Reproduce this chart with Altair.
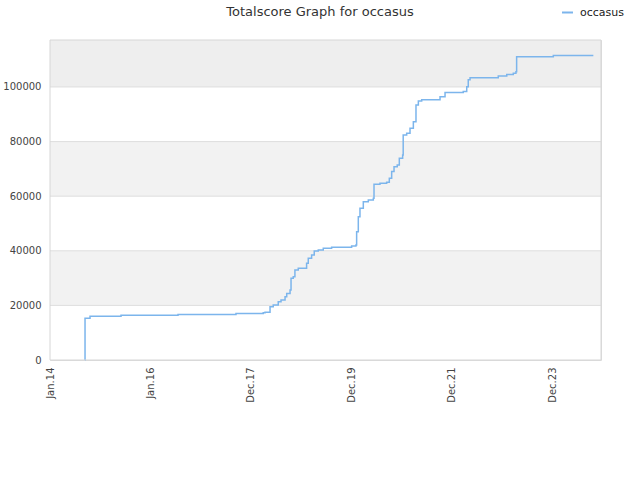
import altair as alt
import pandas as pd

# ---- data ----
dates = [
    "2014-09-19", "2014-09-20", "2014-10-26", "2015-06-06", "2016-07-20", "2017-09-10",
    "2018-03-25", "2018-04-07", "2018-05-13", "2018-06-05", "2018-07-11", "2018-07-31",
    "2018-08-29", "2018-09-10", "2018-10-04", "2018-10-11", "2018-10-27", "2018-11-08",
    "2018-12-02", "2019-01-31", "2019-02-12", "2019-03-08", "2019-03-27", "2019-04-25",
    "2019-05-31", "2019-07-30", "2019-12-21", "2020-01-21", "2020-01-26", "2020-02-07",
    "2020-02-19", "2020-03-14", "2020-04-19", "2020-05-25", "2020-05-30", "2020-07-12",
    "2020-08-29", "2020-09-17", "2020-10-04", "2020-10-21", "2020-11-13", "2020-11-28",
    "2020-12-22", "2020-12-26", "2021-01-20", "2021-02-13", "2021-03-09", "2021-03-28",
    "2021-04-14", "2021-05-08", "2021-09-17", "2021-10-23", "2022-03-03", "2022-03-28",
    "2022-04-08", "2022-04-21", "2022-10-30", "2022-11-10", "2023-01-10", "2023-02-26",
    "2023-03-17", "2023-03-22", "2023-12-11", "2024-09-24",
]
scores = [
    0, 15300, 16000, 16400, 16700, 17000,
    17300, 17500, 19500, 20150, 21350, 22000,
    23200, 24400, 25650, 29900, 30500, 32950,
    33600, 35400, 37250, 38450, 39900, 40300,
    40900, 41300, 41750, 42100, 47000, 52500,
    55550, 58000, 58600, 59250, 64350, 64750,
    65100, 66550, 69000, 70800, 71450, 73900,
    75100, 82400, 83050, 84850, 87300, 93400,
    94850, 95350, 96400, 98000, 98300, 100100,
    102600, 103400, 103400, 104000, 104600, 105000,
    105600, 111100, 111500, 111500,
]
series = ["occasus"] * len(dates)

title_text = ["Totalscore Graph for occasus"]

band_lo = [0, 20000, 40000, 60000, 80000, 100000]
band_hi = [20000, 40000, 60000, 80000, 100000, 117200]
band_fill = ["#ffffff", "#f2f2f2", "#ffffff", "#f2f2f2", "#ffffff", "#eeeeee"]
grid_vals = [20000, 40000, 60000, 80000, 100000]
y_ticks = [0, 20000, 40000, 60000, 80000, 100000]

tick_dates = [(2014, 1, 11), (2016, 1, 4), (2017, 12, 27), (2019, 12, 20), (2021, 12, 12), (2023, 12, 5)]
x_start = (2014, 1, 11)
x_end = (2024, 11, 18)

W, H = 551, 320
FONT = "DejaVu Sans"

line_df = pd.DataFrame({"date": dates, "score": scores, "series": series})
band_df = pd.DataFrame({"lo": band_lo, "hi": band_hi, "fill": band_fill})
grid_df = pd.DataFrame({"v": grid_vals})
title_df = pd.DataFrame({"t": title_text})


def dt(t):
    return alt.DateTime(year=t[0], month=t[1], date=t[2])


yscale = alt.Scale(domain=[0, 117200], nice=False, zero=True)
xscale = alt.Scale(domain=[dt(x_start), dt(x_end)], nice=False)

yaxis = alt.Axis(values=y_ticks, format="d", ticks=False, domain=False, grid=False,
                 labelFont=FONT, labelFontSize=10, labelColor="#444", labelPadding=9)

bands = alt.Chart(band_df).mark_rect().encode(
    x=alt.value(0), x2=alt.value(W),
    y=alt.Y("lo:Q", scale=yscale, title=None, axis=yaxis),
    y2="hi:Q",
    fill=alt.Fill("fill:N", scale=None),
)

grid = alt.Chart(grid_df).mark_rule(color="#dedede", strokeWidth=1).encode(
    y=alt.Y("v:Q", scale=yscale, title=None, axis=yaxis),
    x=alt.value(0), x2=alt.value(W),
)

line = alt.Chart(line_df).mark_line(interpolate="step-after", strokeWidth=1.5).encode(
    x=alt.X("date:T", scale=xscale, title=None,
            axis=alt.Axis(values=[dt(t) for t in tick_dates], format="%b.%y",
                          labelAngle=270, labelAlign="right", labelBaseline="middle",
                          labelPadding=7, ticks=False, domain=False, grid=False,
                          labelFont=FONT, labelFontSize=10, labelColor="#444",
                          labelOverlap=False, labelFlush=False)),
    y=alt.Y("score:Q", scale=yscale, title=None, axis=yaxis),
    color=alt.Color("series:N",
                    scale=alt.Scale(domain=["occasus"], range=["#7cb5ec"]),
                    legend=alt.Legend(title=None, orient="none", legendX=511, legendY=-34,
                                      symbolType="stroke", symbolSize=120, symbolStrokeWidth=2,
                                      labelFont=FONT, labelFontSize=11, labelColor="#222",
                                      labelOffset=6)),
)

border = alt.Chart(alt.Data(values=[{"a": 1}])).mark_rect(
    filled=False, stroke="#d6d6d6", strokeWidth=1
).encode(x=alt.value(0), x2=alt.value(W), y=alt.value(0), y2=alt.value(H))

title = alt.Chart(title_df).mark_text(
    font=FONT, fontSize=13, color="#333", align="center", baseline="middle"
).encode(text="t:N", x=alt.value(270), y=alt.value(-28))

chart = alt.layer(bands, grid, line, border, title).properties(
    width=W, height=H,
    autosize=alt.AutoSizeParams(type="none"),
    padding={"left": 50, "top": 40, "right": 39, "bottom": 120},
).configure_view(stroke=None).configure(background="white")

chart.save("out.html", embed_options={"renderer": "svg", "actions": False})
